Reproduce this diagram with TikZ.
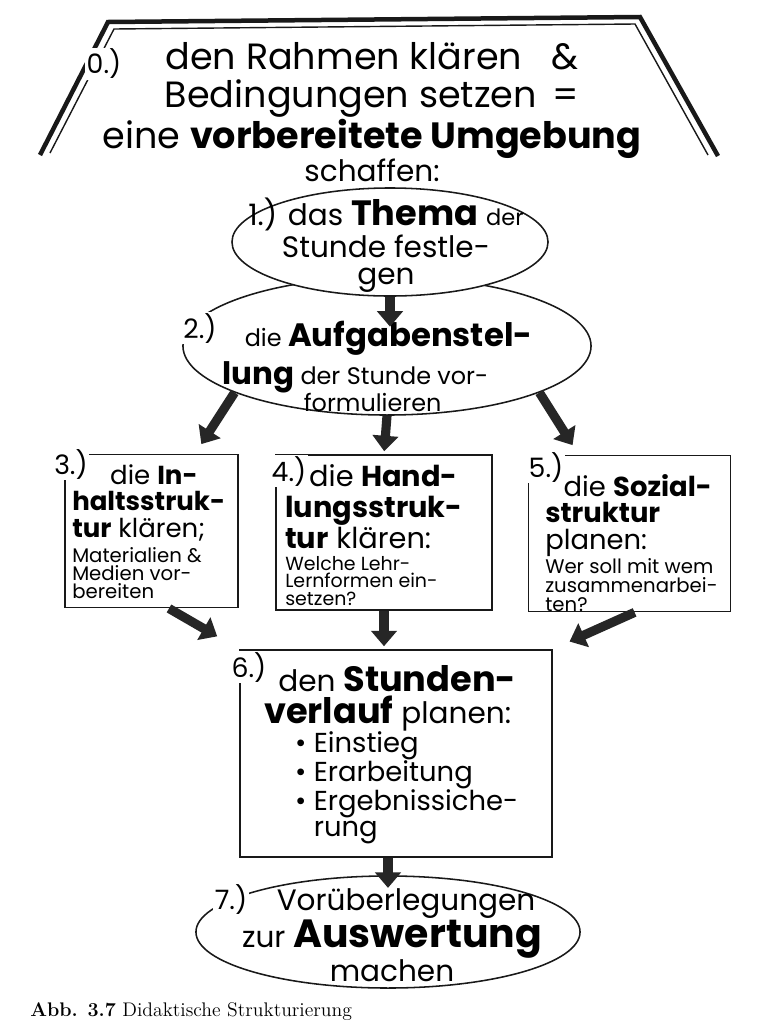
\documentclass[tikz,border=0pt]{standalone}
\usepackage{fontspec}
\setmainfont{Poppins}
\newfontfamily\capfont{Latin Modern Roman}
\usetikzlibrary{arrows.meta, positioning, calc, shapes.geometric}
\newcommand{\fett}[1]{{\bfseries #1}}
\newcommand{\fs}[1]{\fontsize{#1}{#1}\selectfont}

\begin{document}
\begin{tikzpicture}[
    x=0.025cm, y=-0.025cm,
    stage/.style={
        ellipse,
        draw=black!90,
        line width=1.1pt,
        fill=white,
        inner sep=0pt
    },
    stagebox/.style={
        rectangle,
        draw=black!90,
        line width=1.2pt,
        inner sep=0pt
    },
    bigarrow/.style={
        -{Triangle[width=18pt,length=11pt]},
        line width=6.5pt,
        black!85
    },
    hand/.style={inner sep=0pt, align=left},
    num/.style={fill=white, inner sep=1pt, font=\fs{19}}
]
    \useasboundingbox[fill=white] (0,0) rectangle (768,1034);

    % Frame
    \draw[line width=3.2pt, black!90] (40,155) -- (108,22) -- (640,17) -- (718,156);
    \draw[line width=1pt, black!90] (50,153) -- (114,29) -- (635,24) -- (708,155);
    \node[hand, align=center, font=\fontsize{26}{27.5}\selectfont] (t0) at (372,112)
        {den Rahmen klären \ \ \&\\ Bedingungen setzen \,=\\
         eine \fett{vorbereitete Umgebung}\\[-4pt] {\fs{21}schaffen:}};
    \node[num] (n0) at (104,64) {0.)};

    % Stages 1 and 2
    \node[stage, minimum width=10.2cm, minimum height=3.45cm] (e2) at (387,346) {};
    \node[stage, minimum width=7.9cm, minimum height=2.7cm] (e1) at (390,242) {};
    \node[hand, align=center, font=\fontsize{21}{23}\selectfont] (t1) at (386,245)
        {1.) das {\fs{25}\bfseries Thema} {\fs{16}der}\\ Stunde festle-\\[-4pt] gen};
    \node[hand, anchor=north west, font=\fontsize{17}{27}\selectfont] (t2) at (222,321)
        {\hspace*{16pt}die {\fs{23}\bfseries Aufgabenstel-}\\
         {\fs{22}\bfseries lung} der Stunde vor-\\[-8pt] \hspace*{58pt}formulieren};
    \node[num] (n2) at (200,328) {2.)};

    % Stages 3 to 6
    \node[stagebox, minimum width=4.33cm, minimum height=3.83cm] (b3) at (151.5,531) {};
    \node[stagebox, minimum width=5.4cm, minimum height=3.88cm] (b4) at (384,532.5) {};
    \node[stagebox, minimum width=5.05cm, minimum height=3.9cm] (b5) at (629.5,533.5) {};
    \node[stagebox, minimum width=7.8cm, minimum height=5.18cm] (b6) at (396,753.5) {};

    \node[hand, anchor=north west, font=\fontsize{18.5}{19}\selectfont] (t3) at (72,464)
        {\hspace*{27pt}die \fett{In-}\\ \fett{haltsstruk-}\\ \fett{tur} klären;};
    \node[hand, below right=4pt and 0pt of t3.south west, font=\fontsize{14}{13}\selectfont] (t3s)
        {Materialien \&\\ Medien vor-\\ bereiten};
    \node[hand, anchor=north west, font=\fontsize{20.5}{22}\selectfont] (t4) at (285,464)
        {\hspace*{17pt}die \fett{Hand-}\\ \fett{lungsstruk-}\\ \fett{tur} klären:};
    \node[hand, below right=5pt and 0pt of t4.south west, font=\fontsize{13.5}{12.5}\selectfont] (t4s)
        {Welche Lehr-\\ Lernformen ein-\\ setzen?};
    \node[hand, anchor=north west, font=\fontsize{19.5}{19}\selectfont] (t5) at (545,474)
        {\hspace*{13pt}die \fett{Sozial-}\\ \fett{struktur}\\ planen:};
    \node[hand, below right=1pt and 0pt of t5.south west, font=\fontsize{14}{13.5}\selectfont] (t5s)
        {Wer soll mit wem\\ zusammenarbei-\\ ten?};
    \node[hand, anchor=north west, font=\fontsize{21}{23}\selectfont] (t6) at (264,665)
        {\hspace*{10pt}den {\fs{25}\bfseries Stunden-}\\ {\fs{25}\bfseries verlauf} planen:};
    \node[hand, below right=0pt and 22pt of t6.south west, font=\fontsize{19.5}{20.5}\selectfont] (t6s)
        {\textbullet\ Einstieg\\ \textbullet\ Erarbeitung\\ \textbullet\ Ergebnissiche-\\[-2pt]
         \phantom{\textbullet\ }rung};

    \node[num] (n3) at (71,464) {3.)};
    \node[num] (n4) at (289,471) {4.)};
    \node[num] (n5) at (546,467) {5.)};
    \node[num] (n6) at (249,667) {6.)};

    % Stage 7
    \node[stage, minimum width=9.6cm, minimum height=2.8cm] (e7) at (388,932) {};
    \node[hand, align=center, font=\fontsize{21}{23}\selectfont] (t7) at (392,935)
        {\hspace*{20pt}Vorüberlegungen\\ zur {\fs{28}\bfseries Auswertung}\\ machen};
    \node[num] (n7) at (231,899) {7.)};

    % Arrows
    \draw[bigarrow, shorten >=-4pt] (e1.south) -- (e1.south |- t2.north);
    \draw[bigarrow, shorten >=8pt] (e2.197) -- ($(b3.north)!0.5!(b3.north east)$);
    \draw[bigarrow, shorten >=2pt] (e2.south) -- (b4.north);
    \draw[bigarrow, shorten >=8pt] (e2.343) -- ($(b5.north)!0.5!(b5.north west)$);
    \draw[bigarrow, shorten >=18pt] ($(b3.south)!0.2!(b3.south east)$) -- (b6.north west);
    \draw[bigarrow, shorten >=2pt] (b4.south) -- (b4.south |- b6.north);
    \draw[bigarrow, shorten >=13pt] ($(b5.south)!0.05!(b5.south east)$) -- (b6.north east);
    \draw[bigarrow, shorten >=-9pt] (b6.south -| e7.north) -- (e7.north);

    % Caption
    \node[anchor=west, inner sep=0pt, font=\capfont\fs{14}] (cap) at (30,1012)
        {\textbf{Abb. 3.7} Didaktische Strukturierung};
\end{tikzpicture}
\end{document}
